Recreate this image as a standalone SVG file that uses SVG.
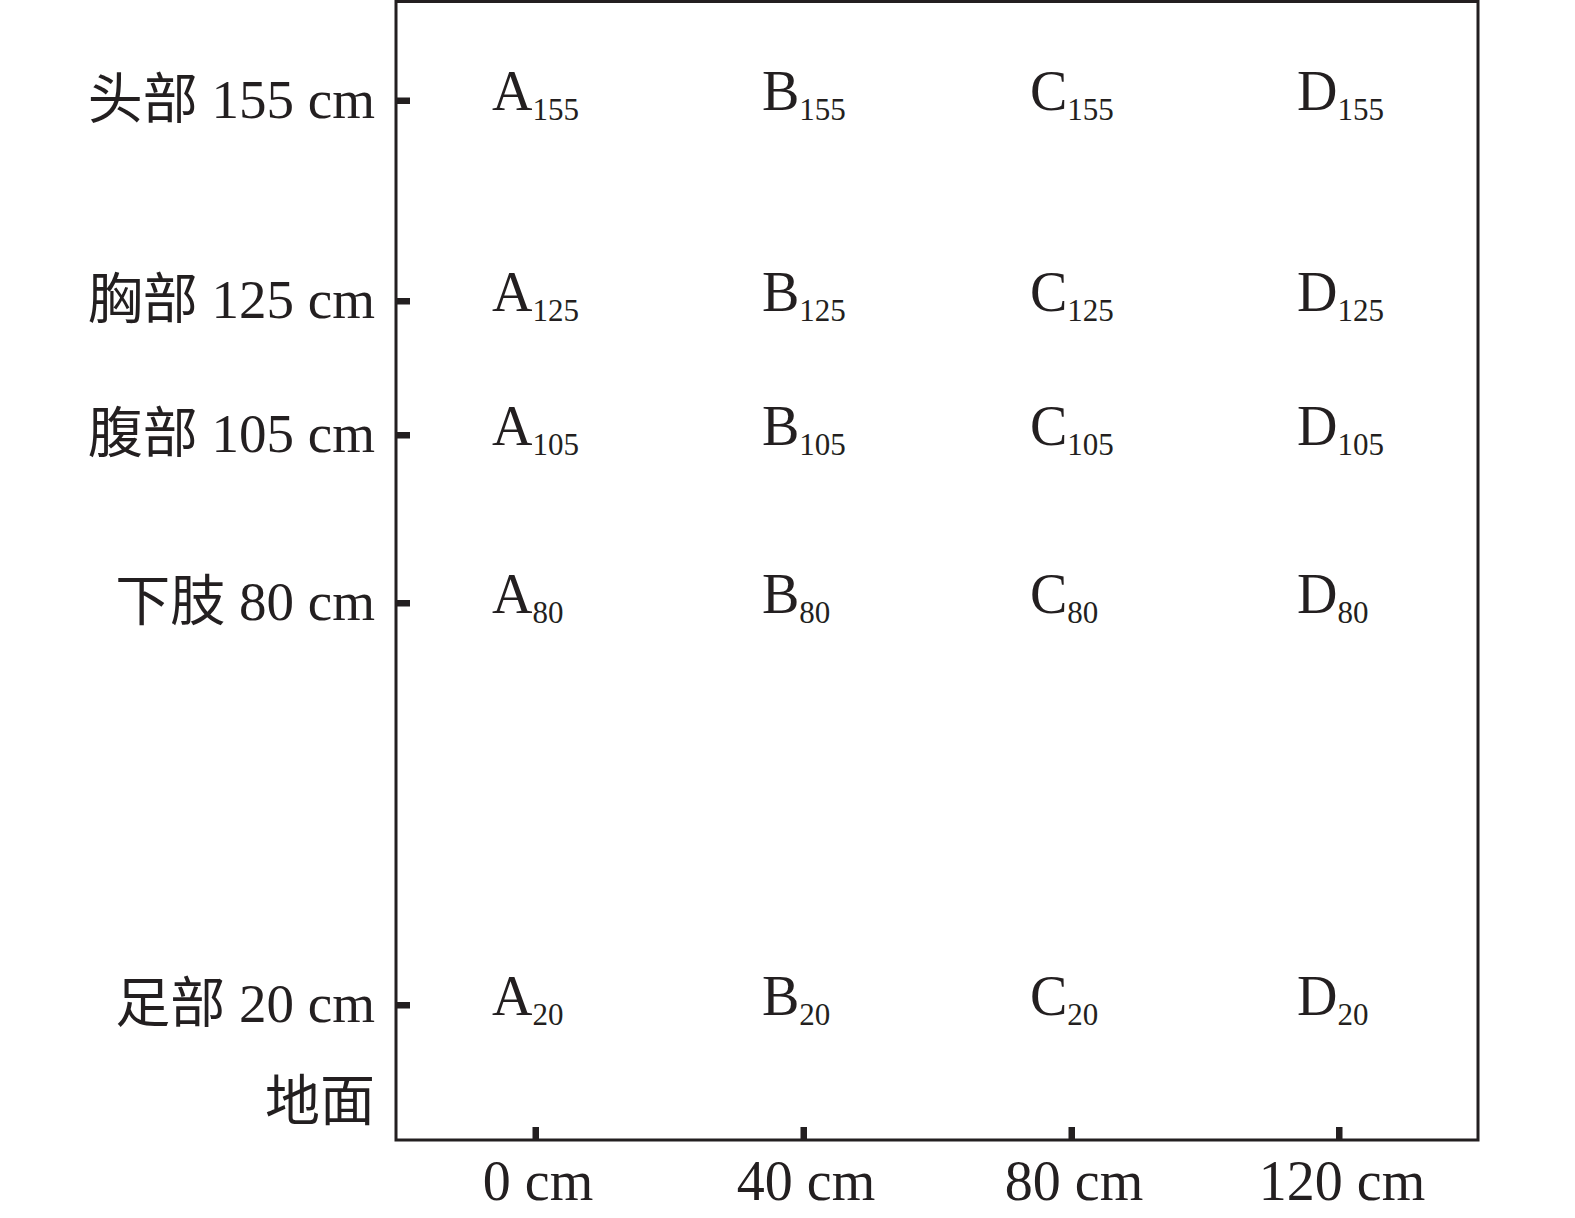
<svg xmlns="http://www.w3.org/2000/svg" width="1575" height="1218" viewBox="0 0 1575 1218">
<style>
.t{font-family:"Liberation Serif","Noto Sans CJK SC",serif;fill:#231f20;font-size:55px}
.c{font-family:"Liberation Serif",serif;fill:#231f20;font-size:56px}
.s{font-size:31px}
.tick{fill:#231f20}
</style>
<rect width="1575" height="1218" fill="#fff"/>
<g id="frame">
<rect x="396" y="1.5" width="1082" height="1138.5" fill="none" stroke="#231f20" stroke-width="3"/>
</g>
<g id="y-ticks" class="tick">
<rect x="396" y="97.5" width="14" height="6.5"/>
<rect x="396" y="298" width="14" height="6.5"/>
<rect x="396" y="432" width="14" height="6.5"/>
<rect x="396" y="600" width="14" height="6.5"/>
<rect x="396" y="1002" width="14" height="6.5"/>
</g>
<g id="x-ticks" class="tick">
<rect x="532.5" y="1127" width="6.5" height="13"/>
<rect x="800.5" y="1127" width="6.5" height="13"/>
<rect x="1068.5" y="1127" width="6.5" height="13"/>
<rect x="1336" y="1127" width="6.5" height="13"/>
</g>
<g id="y-labels" class="t" text-anchor="end">
<text x="375" y="117.5">头部 155 cm</text>
<text x="375" y="318">胸部 125 cm</text>
<text x="375" y="452">腹部 105 cm</text>
<text x="375" y="620">下肢 80 cm</text>
<text x="375" y="1022">足部 20 cm</text>
<text x="375" y="1120">地面</text>
</g>
<g id="x-labels" class="c" text-anchor="middle">
<text x="538" y="1200">0 cm</text>
<text x="806" y="1200">40 cm</text>
<text x="1074" y="1200">80 cm</text>
<text x="1342" y="1200">120 cm</text>
</g>
<g id="cells" class="c">
<g id="row155">
<text x="492" y="110">A<tspan class="s" dy="10">155</tspan></text>
<text x="762" y="110">B<tspan class="s" dy="10">155</tspan></text>
<text x="1030" y="110">C<tspan class="s" dy="10">155</tspan></text>
<text x="1297" y="110">D<tspan class="s" dy="10">155</tspan></text>
</g>
<g id="row125">
<text x="492" y="310.5">A<tspan class="s" dy="10">125</tspan></text>
<text x="762" y="310.5">B<tspan class="s" dy="10">125</tspan></text>
<text x="1030" y="310.5">C<tspan class="s" dy="10">125</tspan></text>
<text x="1297" y="310.5">D<tspan class="s" dy="10">125</tspan></text>
</g>
<g id="row105">
<text x="492" y="444.5">A<tspan class="s" dy="10">105</tspan></text>
<text x="762" y="444.5">B<tspan class="s" dy="10">105</tspan></text>
<text x="1030" y="444.5">C<tspan class="s" dy="10">105</tspan></text>
<text x="1297" y="444.5">D<tspan class="s" dy="10">105</tspan></text>
</g>
<g id="row80">
<text x="492" y="612.5">A<tspan class="s" dy="10">80</tspan></text>
<text x="762" y="612.5">B<tspan class="s" dy="10">80</tspan></text>
<text x="1030" y="612.5">C<tspan class="s" dy="10">80</tspan></text>
<text x="1297" y="612.5">D<tspan class="s" dy="10">80</tspan></text>
</g>
<g id="row20">
<text x="492" y="1014.5">A<tspan class="s" dy="10">20</tspan></text>
<text x="762" y="1014.5">B<tspan class="s" dy="10">20</tspan></text>
<text x="1030" y="1014.5">C<tspan class="s" dy="10">20</tspan></text>
<text x="1297" y="1014.5">D<tspan class="s" dy="10">20</tspan></text>
</g>
</g>
</svg>
